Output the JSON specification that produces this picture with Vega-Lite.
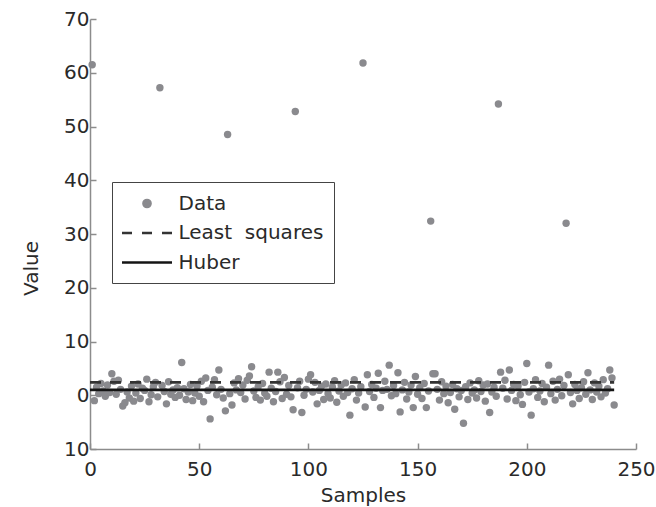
{
  "$schema": "https://vega.github.io/schema/vega-lite/v6.json",
  "width": 546,
  "height": 430,
  "autosize": {"type": "none"},
  "padding": {"left": 90, "top": 19, "right": 20, "bottom": 58},
  "background": "white",
  "config": {"view": {"stroke": null}, "font": "DejaVu Sans"},
  "datasets": {
    "samples": [
      {"sample":1,"value":61.5},{"sample":2,"value":-1.0},{"sample":3,"value":1.5},{"sample":4,"value":0.3},{"sample":5,"value":2.2},{"sample":6,"value":0.8},{"sample":7,"value":-0.2},{"sample":8,"value":1.9},{"sample":9,"value":0.5},{"sample":10,"value":4.0},
      {"sample":11,"value":2.6},{"sample":12,"value":0.2},{"sample":13,"value":2.8},{"sample":14,"value":1.1},{"sample":15,"value":-2.0},{"sample":16,"value":-1.4},{"sample":17,"value":0.6},{"sample":18,"value":-0.5},{"sample":19,"value":1.7},{"sample":20,"value":-1.1},
      {"sample":21,"value":0.4},{"sample":22,"value":2.1},{"sample":23,"value":-0.6},{"sample":24,"value":1.3},{"sample":25,"value":0.9},{"sample":26,"value":3.0},{"sample":27,"value":-1.2},{"sample":28,"value":0.1},{"sample":29,"value":1.6},{"sample":30,"value":2.4},
      {"sample":31,"value":-0.3},{"sample":32,"value":57.2},{"sample":33,"value":1.8},{"sample":34,"value":0.7},{"sample":35,"value":-1.6},{"sample":36,"value":2.5},{"sample":37,"value":0.2},{"sample":38,"value":1.0},{"sample":39,"value":-0.4},{"sample":40,"value":1.4},
      {"sample":41,"value":0.0},{"sample":42,"value":6.1},{"sample":43,"value":1.2},{"sample":44,"value":-0.8},{"sample":45,"value":0.6},{"sample":46,"value":2.0},{"sample":47,"value":-1.0},{"sample":48,"value":0.4},{"sample":49,"value":1.7},{"sample":50,"value":-0.2},
      {"sample":51,"value":2.6},{"sample":52,"value":-1.2},{"sample":53,"value":3.2},{"sample":54,"value":0.9},{"sample":55,"value":-4.4},{"sample":56,"value":1.5},{"sample":57,"value":2.9},{"sample":58,"value":0.1},{"sample":59,"value":4.7},{"sample":60,"value":1.1},
      {"sample":61,"value":-0.5},{"sample":62,"value":-2.9},{"sample":63,"value":48.5},{"sample":64,"value":0.3},{"sample":65,"value":-1.8},{"sample":66,"value":2.3},{"sample":67,"value":1.0},{"sample":68,"value":3.1},{"sample":69,"value":0.5},{"sample":70,"value":1.9},
      {"sample":71,"value":-0.7},{"sample":72,"value":2.8},{"sample":73,"value":3.6},{"sample":74,"value":5.3},{"sample":75,"value":0.8},{"sample":76,"value":-0.4},{"sample":77,"value":1.6},{"sample":78,"value":-0.9},{"sample":79,"value":2.2},{"sample":80,"value":0.4},
      {"sample":81,"value":-0.2},{"sample":82,"value":4.3},{"sample":83,"value":1.3},{"sample":84,"value":-1.2},{"sample":85,"value":0.7},{"sample":86,"value":4.3},{"sample":87,"value":2.5},{"sample":88,"value":-0.6},{"sample":89,"value":3.3},{"sample":90,"value":0.2},
      {"sample":91,"value":1.8},{"sample":92,"value":-0.3},{"sample":93,"value":-2.7},{"sample":94,"value":52.8},{"sample":95,"value":1.4},{"sample":96,"value":2.6},{"sample":97,"value":-3.2},{"sample":98,"value":0.0},{"sample":99,"value":1.1},{"sample":100,"value":3.0},
      {"sample":101,"value":3.8},{"sample":102,"value":0.6},{"sample":103,"value":2.4},{"sample":104,"value":-1.6},{"sample":105,"value":0.9},{"sample":106,"value":1.7},{"sample":107,"value":-0.8},{"sample":108,"value":2.1},{"sample":109,"value":0.3},{"sample":110,"value":-0.5},
      {"sample":111,"value":1.5},{"sample":112,"value":2.7},{"sample":113,"value":-1.3},{"sample":114,"value":0.8},{"sample":115,"value":1.9},{"sample":116,"value":-0.2},{"sample":117,"value":2.3},{"sample":118,"value":0.5},{"sample":119,"value":-3.7},{"sample":120,"value":1.2},
      {"sample":121,"value":2.9},{"sample":122,"value":-0.9},{"sample":123,"value":0.4},{"sample":124,"value":1.6},{"sample":125,"value":61.8},{"sample":126,"value":-2.2},{"sample":127,"value":3.8},{"sample":128,"value":0.7},{"sample":129,"value":2.0},{"sample":130,"value":-0.4},
      {"sample":131,"value":1.3},{"sample":132,"value":4.1},{"sample":133,"value":-2.3},{"sample":134,"value":0.9},{"sample":135,"value":2.6},{"sample":136,"value":1.1},{"sample":137,"value":5.6},{"sample":138,"value":-0.1},{"sample":139,"value":1.8},{"sample":140,"value":0.3},
      {"sample":141,"value":4.2},{"sample":142,"value":-3.1},{"sample":143,"value":1.0},{"sample":144,"value":2.4},{"sample":145,"value":-0.7},{"sample":146,"value":0.6},{"sample":147,"value":1.9},{"sample":148,"value":-2.3},{"sample":149,"value":3.5},{"sample":150,"value":0.2},
      {"sample":151,"value":1.4},{"sample":152,"value":-0.6},{"sample":153,"value":2.2},{"sample":154,"value":-2.3},{"sample":155,"value":0.8},{"sample":156,"value":32.4},{"sample":157,"value":4.0},{"sample":158,"value":4.0},{"sample":159,"value":1.1},{"sample":160,"value":-0.9},
      {"sample":161,"value":2.5},{"sample":162,"value":0.3},{"sample":163,"value":1.7},{"sample":164,"value":-1.4},{"sample":165,"value":0.5},{"sample":166,"value":2.0},{"sample":167,"value":-2.6},{"sample":168,"value":1.2},{"sample":169,"value":-0.3},{"sample":170,"value":0.9},
      {"sample":171,"value":-5.2},{"sample":172,"value":1.6},{"sample":173,"value":-0.8},{"sample":174,"value":2.3},{"sample":175,"value":0.4},{"sample":176,"value":1.0},{"sample":177,"value":-0.5},{"sample":178,"value":2.7},{"sample":179,"value":0.7},{"sample":180,"value":1.9},
      {"sample":181,"value":-1.1},{"sample":182,"value":2.1},{"sample":183,"value":-3.2},{"sample":184,"value":0.6},{"sample":185,"value":1.5},{"sample":186,"value":-0.2},{"sample":187,"value":54.2},{"sample":188,"value":4.3},{"sample":189,"value":1.3},{"sample":190,"value":2.8},
      {"sample":191,"value":-0.7},{"sample":192,"value":4.7},{"sample":193,"value":0.9},{"sample":194,"value":2.0},{"sample":195,"value":-1.0},{"sample":196,"value":1.7},{"sample":197,"value":0.1},{"sample":198,"value":-1.7},{"sample":199,"value":2.4},{"sample":200,"value":5.9},
      {"sample":201,"value":0.6},{"sample":202,"value":-3.7},{"sample":203,"value":1.2},{"sample":204,"value":2.9},{"sample":205,"value":-0.4},{"sample":206,"value":0.8},{"sample":207,"value":2.2},{"sample":208,"value":-1.2},{"sample":209,"value":1.5},{"sample":210,"value":5.6},
      {"sample":211,"value":0.3},{"sample":212,"value":2.6},{"sample":213,"value":-0.9},{"sample":214,"value":1.1},{"sample":215,"value":3.0},{"sample":216,"value":-0.1},{"sample":217,"value":1.8},{"sample":218,"value":32.0},{"sample":219,"value":3.8},{"sample":220,"value":0.5},
      {"sample":221,"value":-1.6},{"sample":222,"value":2.0},{"sample":223,"value":0.9},{"sample":224,"value":-0.6},{"sample":225,"value":1.4},{"sample":226,"value":2.5},{"sample":227,"value":0.2},{"sample":228,"value":4.2},{"sample":229,"value":1.0},{"sample":230,"value":-0.8},
      {"sample":231,"value":2.3},{"sample":232,"value":0.6},{"sample":233,"value":1.7},{"sample":234,"value":-0.3},{"sample":235,"value":2.9},{"sample":236,"value":0.4},{"sample":237,"value":1.2},{"sample":238,"value":4.7},{"sample":239,"value":3.2},{"sample":240,"value":-1.8}
    ],
    "fits": [
      {"series":"Least squares","sample":0,"value":2.4},
      {"series":"Least squares","sample":240,"value":2.4},
      {"series":"Huber","sample":0,"value":1.0},
      {"series":"Huber","sample":240,"value":1.0}
    ]
  },
  "encoding": {
    "x": {
      "field": "sample", "type": "quantitative",
      "scale": {"domain": [0, 250], "nice": false, "zero": false},
      "axis": {
        "title": "Samples", "values": [0, 50, 100, 150, 200, 250], "grid": false, "labelFlush": false,
        "domainColor": "#8c8c8c", "domainWidth": 1.5, "tickColor": "#8c8c8c", "tickWidth": 1.5, "tickSize": -6,
        "labelFont": "DejaVu Sans", "labelFontSize": 20, "labelColor": "#2a2a2a", "labelPadding": 16,
        "titleFont": "DejaVu Sans", "titleFontSize": 20, "titleFontWeight": "normal", "titleColor": "#2a2a2a",
        "titleBaseline": "alphabetic", "titleY": 52
      }
    },
    "y": {
      "field": "value", "type": "quantitative",
      "scale": {"domain": [-10, 70], "nice": false, "zero": false},
      "axis": {
        "title": "Value", "values": [-10, 0, 10, 20, 30, 40, 50, 60, 70], "grid": false, "labelFlush": false,
        "labelExpr": "datum.value < 0 ? '10' : datum.label",
        "domainColor": "#8c8c8c", "domainWidth": 1.5, "tickColor": "#8c8c8c", "tickWidth": 1.5, "tickSize": -6,
        "labelFont": "DejaVu Sans", "labelFontSize": 20, "labelColor": "#2a2a2a", "labelPadding": 7,
        "titleFont": "DejaVu Sans", "titleFontSize": 20, "titleFontWeight": "normal", "titleColor": "#2a2a2a",
        "titleBaseline": "alphabetic", "titleX": -53, "titleY": 249
      }
    }
  },
  "layer": [
    {
      "data": {"name": "samples"},
      "mark": {"type": "point", "filled": true, "size": 55, "opacity": 1},
      "encoding": {
        "color": {
          "datum": "Data", "type": "nominal",
          "scale": {"domain": ["Data", "Least squares", "Huber"], "range": ["#8a8a8e", "#333333", "#141414"]},
          "legend": {
            "title": null, "orient": "none", "legendX": 22, "legendY": 163,
            "padding": 10, "strokeColor": "#444", "fillColor": "white",
            "labelFont": "DejaVu Sans", "labelFontSize": 20, "labelColor": "#2a2a2a", "labelLimit": 240,
            "labelExpr": "datum.label === 'Least squares' ? 'Least\u00a0\u00a0squares\u00a0\u00a0' : datum.label",
            "labelOffset": 20, "symbolOffset": 13.5, "rowPadding": 7.5,
            "symbolSize": 400, "symbolStrokeWidth": 2.5,
            "encode": {
              "symbols": {
                "update": {
                  "shape": {"signal": "datum.label === 'Data' ? 'M0.36,0A0.36,0.36 0 1,1 -0.36,0A0.36,0.36 0 1,1 0.36,0Z' : (datum.label === 'Least squares' ? 'M-2.5,0H-1.5M-0.5,0H0.5M1.5,0H2.5' : 'M-2.5,0H2.5')"},
                  "size": {"value": 400},
                  "fill": {"signal": "datum.label === 'Data' ? '#8a8a8e' : 'transparent'"},
                  "stroke": {"signal": "datum.label === 'Data' ? 'transparent' : (datum.label === 'Huber' ? '#141414' : '#333333')"},
                  "strokeWidth": {"value": 2.5},
                  "opacity": {"value": 1}
                }
              }
            }
          }
        }
      }
    },
    {
      "data": {"name": "fits"},
      "mark": {"type": "line", "strokeWidth": 2.8},
      "encoding": {
        "color": {
          "field": "series", "type": "nominal",
          "legend": {
            "title": null, "orient": "none", "legendX": 22, "legendY": 163,
            "padding": 10, "strokeColor": "#444", "fillColor": "white",
            "labelFont": "DejaVu Sans", "labelFontSize": 20, "labelColor": "#2a2a2a", "labelLimit": 240,
            "labelExpr": "datum.label === 'Least squares' ? 'Least\u00a0\u00a0squares\u00a0\u00a0' : datum.label",
            "labelOffset": 20, "symbolOffset": 13.5, "rowPadding": 7.5,
            "symbolSize": 400, "symbolStrokeWidth": 2.5,
            "encode": {
              "symbols": {
                "update": {
                  "shape": {"signal": "datum.label === 'Data' ? 'M0.36,0A0.36,0.36 0 1,1 -0.36,0A0.36,0.36 0 1,1 0.36,0Z' : (datum.label === 'Least squares' ? 'M-2.5,0H-1.5M-0.5,0H0.5M1.5,0H2.5' : 'M-2.5,0H2.5')"},
                  "size": {"value": 400},
                  "fill": {"signal": "datum.label === 'Data' ? '#8a8a8e' : 'transparent'"},
                  "stroke": {"signal": "datum.label === 'Data' ? 'transparent' : (datum.label === 'Huber' ? '#141414' : '#333333')"},
                  "strokeWidth": {"value": 2.5},
                  "opacity": {"value": 1}
                }
              }
            }
          }
        },
        "strokeDash": {
          "field": "series", "type": "nominal",
          "scale": {"domain": ["Least squares", "Huber"], "range": [[11, 9], [1, 0]]},
          "legend": null
        }
      }
    }
  ]
}
